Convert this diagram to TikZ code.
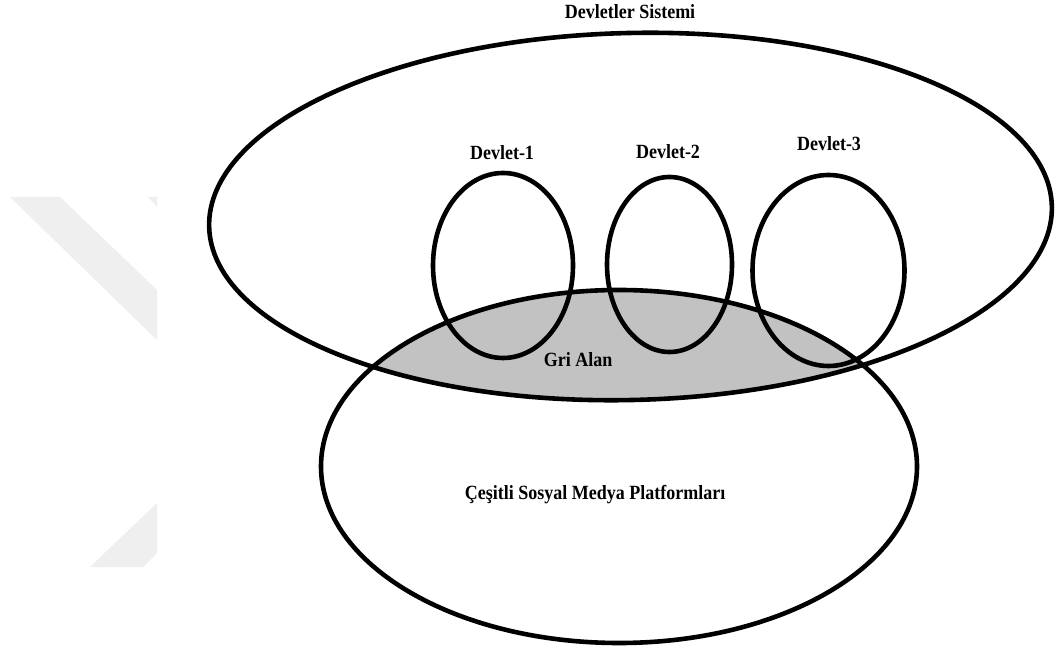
\documentclass[tikz,border=0pt]{standalone}
\usepackage{fontspec}
\setmainfont{Liberation Serif}
\definecolor{grayarea}{HTML}{C2C2C2}
\definecolor{wmark}{HTML}{EFEFEF}
\tikzset{
  outline/.style={draw=black, line width=4.6pt},
  lbl/.style={font=\fontsize{18}{20}\selectfont\bfseries, inner sep=0pt, yscale=1.12},
  wm/.style={fill=wmark, draw=none}
}
\begin{document}
\begin{tikzpicture}[x=1pt,y=1pt]
\useasboundingbox (0,0) rectangle (1057,648);
\fill[white] (0,0) rectangle (1057,648);
% watermark
\path[wm] (10,451) -- (60,451) -- (157,358) -- (157,308) -- cycle;
\path[wm] (148,451) -- (157,451) -- (157,441) -- cycle;
\path[wm] (157,145) -- (157,95) -- (143,81) -- (90,81) -- cycle;
% grey area
\begin{scope}
  \clip (630.5,431.5) ellipse [x radius=421.5pt, y radius=183.5pt, rotate=1.4];
  \fill[grayarea] (619,181.5) ellipse [x radius=298pt, y radius=176.5pt];
\end{scope}
% outlines
\draw[outline] (630.5,431.5) ellipse [x radius=421.5pt, y radius=183.5pt, rotate=1.4];
\draw[outline] (619,181.5) ellipse [x radius=298pt, y radius=176.5pt];
\draw[outline] (503,382.5) ellipse [x radius=70pt, y radius=92.5pt];
\draw[outline] (669.5,383.5) ellipse [x radius=62.5pt, y radius=87.5pt];
\draw[outline] (828.5,377.5) ellipse [x radius=76pt, y radius=95.5pt];
% labels
\node[lbl] (sys) at (630,636) {Devletler Sistemi};
\node[lbl] (d1) at (502,495) {Devlet-1};
\node[lbl] (d2) at (668,496) {Devlet-2};
\node[lbl] (d3) at (829,504) {Devlet-3};
\node[lbl] (gri) at (578,288) {Gri Alan};
\node[lbl] (sm) at (595,153) {Çeşitli Sosyal Medya Platformları};
\end{tikzpicture}
\end{document}
